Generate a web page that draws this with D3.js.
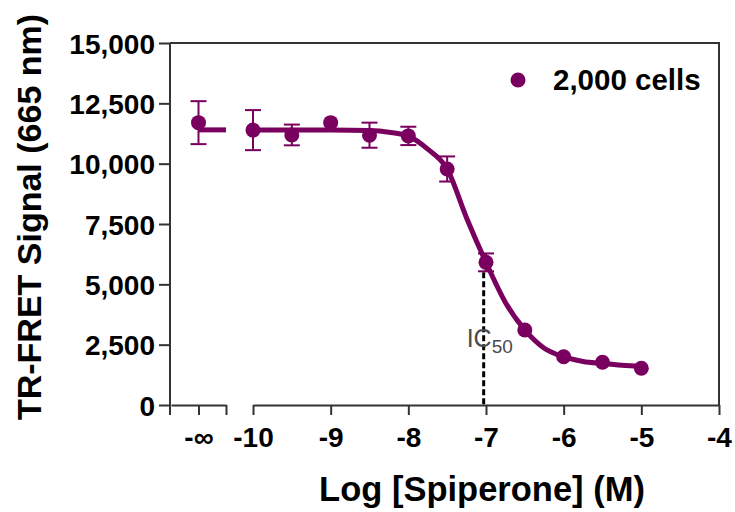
<!DOCTYPE html>
<html>
<head>
<meta charset="utf-8">
<script src="https://cdn.jsdelivr.net/npm/d3@7"></script>
<style>
  body { margin: 0; background: #fff; }
  svg text { font-family: "Liberation Sans", Arial, sans-serif; }
</style>
</head>
<body>
<svg id="chart" width="735" height="512"></svg>
<script>
// measured points (log M) and TR-FRET signal
const logConc = [-10, -9.5, -9, -8.5, -8, -7.5, -7, -6.5, -6, -5.5, -5];
const signal  = [11390, 11190, 11700, 11180, 11150, 9780, 5910, 3110, 2000, 1770, 1520];
const errBar  = [830, 430, 0, 520, 380, 520, 370, 0, 0, 0, 0];

// zero-concentration point (drawn at "-∞")
const infSignal = 11700;
const infErr = 890;

// fitted curve
const fitX = [-10, -9.5, -9, -8.5, -8.25, -8, -7.75, -7.5, -7.25, -7, -6.75, -6.5, -6.25, -6, -5.75, -5.5, -5.25, -5];
const fitY = [11400, 11400, 11400, 11370, 11300, 11140, 10600, 9780, 7750, 5910, 4250, 3110, 2350, 2000, 1800, 1720, 1650, 1600];
const infFit = 11400;

const yTicks = [0, 2500, 5000, 7500, 10000, 12500, 15000];
const xTicks = [-10, -9, -8, -7, -6, -5, -4];
const logIC50 = -7.03;
const seriesLabel = "2,000 cells";

const purple = "#7a005f";
const axisColor = "#333";

const svg = d3.select("#chart");

const y = d3.scaleLinear().domain([0, 15000]).range([405, 43]);
const x = d3.scaleLinear().domain([-10, -4]).range([253, 719]);
// broken-axis segment for the zero dose
const xb = d3.scaleLinear().domain([-1, 1]).range([171, 226]);

// frame (top and right)
svg.append("path")
  .attr("d", `M170,43H719V405`)
  .attr("fill", "none")
  .attr("stroke", axisColor)
  .attr("stroke-width", 2);

// y axis
const yAxis = svg.append("g")
  .attr("transform", "translate(170,0)")
  .call(d3.axisLeft(y).tickValues(yTicks).tickSize(11).tickPadding(4)
    .tickFormat(d3.format(",")));
yAxis.select(".domain").remove();
yAxis.append("line").attr("x1", 0).attr("x2", 0).attr("y1", 43).attr("y2", 415)
  .attr("stroke", axisColor).attr("stroke-width", 2);
yAxis.selectAll(".tick line").attr("stroke", axisColor).attr("stroke-width", 2);
yAxis.selectAll("text")
  .attr("fill", "#000")
  .style("font-size", "28px")
  .style("font-weight", "bold")
  .attr("dy", "0.36em");

// x axis, main segment
const xAxis = svg.append("g")
  .attr("transform", "translate(0,405)")
  .call(d3.axisBottom(x).tickValues(xTicks).tickSize(10).tickSizeOuter(0).tickPadding(12)
    .tickFormat(d => d));
xAxis.select(".domain").attr("stroke", axisColor).attr("stroke-width", 2);
xAxis.selectAll(".tick line").attr("stroke", axisColor).attr("stroke-width", 2);
xAxis.selectAll("text")
  .attr("fill", "#000")
  .style("font-size", "28px")
  .style("font-weight", "bold");

// x axis, zero-dose segment
const xbAxis = svg.append("g")
  .attr("transform", "translate(0,405)")
  .call(d3.axisBottom(xb).tickValues([0, 1]).tickSize(10).tickSizeOuter(0).tickPadding(12)
    .tickFormat(d => d === 0 ? "-∞" : ""));
xbAxis.select(".domain").attr("stroke", axisColor).attr("stroke-width", 2);
xbAxis.selectAll(".tick line").attr("stroke", axisColor).attr("stroke-width", 2);
xbAxis.selectAll("text")
  .attr("fill", "#000")
  .style("font-size", "28px")
  .style("font-weight", "bold");

// IC50 marker
const icX = x(logIC50);
const icY = y(signal[logConc.indexOf(-7)]);
svg.append("line")
  .attr("x1", icX).attr("x2", icX)
  .attr("y1", icY + 10).attr("y2", y(0))
  .attr("stroke", "#000")
  .attr("stroke-width", 3)
  .attr("stroke-dasharray", "6 3");

const icLabel = svg.append("text")
  .attr("x", icX - 17)
  .attr("y", 347)
  .attr("fill", "#4a4a4a")
  .style("font-size", "25px");
icLabel.append("tspan").text("IC");
icLabel.append("tspan").attr("dy", 6).style("font-size", "19px").text("50");

// fitted curve
const line = d3.line()
  .x((d, i) => x(fitX[i]))
  .y(d => y(d))
  .curve(d3.curveMonotoneX);

svg.append("path")
  .datum(fitY)
  .attr("d", line)
  .attr("fill", "none")
  .attr("stroke", purple)
  .attr("stroke-width", 5);

svg.append("line")
  .attr("x1", xb(0)).attr("x2", xb(1))
  .attr("y1", y(infFit)).attr("y2", y(infFit))
  .attr("stroke", purple)
  .attr("stroke-width", 5);

// error bars
const pts = logConc.map((c, i) => ({ px: x(c), v: signal[i], e: errBar[i] }));
pts.push({ px: xb(0), v: infSignal, e: infErr });

const eb = svg.append("g").attr("stroke", purple).attr("stroke-width", 2);
pts.filter(d => d.e > 0).forEach(d => {
  eb.append("line").attr("x1", d.px).attr("x2", d.px).attr("y1", y(d.v + d.e)).attr("y2", y(d.v - d.e));
  eb.append("line").attr("x1", d.px - 8).attr("x2", d.px + 8).attr("y1", y(d.v + d.e)).attr("y2", y(d.v + d.e));
  eb.append("line").attr("x1", d.px - 8).attr("x2", d.px + 8).attr("y1", y(d.v - d.e)).attr("y2", y(d.v - d.e));
});

svg.append("g").selectAll("circle")
  .data(pts)
  .join("circle")
  .attr("cx", d => d.px)
  .attr("cy", d => y(d.v))
  .attr("r", 7.5)
  .attr("fill", purple);

// legend
svg.append("circle").attr("cx", 518).attr("cy", 80).attr("r", 7.5).attr("fill", purple);
svg.append("text")
  .attr("x", 553).attr("y", 90)
  .style("font-size", "29.5px")
  .style("font-weight", "bold")
  .text(seriesLabel);

// axis titles
svg.append("text")
  .attr("transform", "translate(41,217) rotate(-90)")
  .attr("text-anchor", "middle")
  .style("font-size", "34px")
  .style("font-weight", "bold")
  .text("TR-FRET Signal (665 nm)");

svg.append("text")
  .attr("x", 482).attr("y", 501)
  .attr("text-anchor", "middle")
  .style("font-size", "34.5px")
  .style("font-weight", "bold")
  .text("Log [Spiperone] (M)");
</script>
</body>
</html>
